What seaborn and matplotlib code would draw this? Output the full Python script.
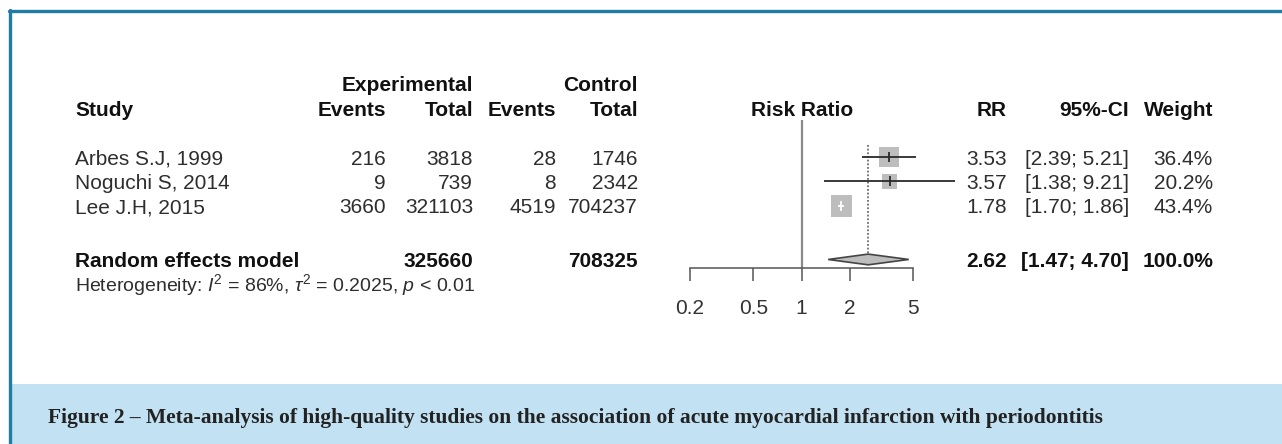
import matplotlib
matplotlib.use("Agg")
import matplotlib.pyplot as plt
import matplotlib.transforms as mtransforms
from matplotlib.patches import Rectangle
from matplotlib.lines import Line2D
import pandas as pd
import seaborn as sns

# study level data
studies = ["Arbes S.J, 1999", "Noguchi S, 2014", "Lee J.H, 2015"]
exp_events = [216, 9, 3660]
exp_total = [3818, 739, 321103]
ctrl_events = [28, 8, 4519]
ctrl_total = [1746, 2342, 704237]
rr = [3.53, 3.57, 1.78]
ci_lo = [2.39, 1.38, 1.70]
ci_hi = [5.21, 9.21, 1.86]
weight = [36.4, 20.2, 43.4]

# pooled (random effects) result
pooled_rr = 2.62
pooled_lo = 1.47
pooled_hi = 4.70
pooled_exp_total = 325660
pooled_ctrl_total = 708325
het_text = r"Heterogeneity: $I^2$ = 86%, $\tau^2$ = 0.2025, $p$ < 0.01"

x_ticks = [0.2, 0.5, 1, 2, 5]
caption = ("Figure 2 \u2013 Meta-analysis of high-quality studies on the association "
           "of acute myocardial infarction with periodontitis")

sns.set_theme(style="white")
plt.rcParams["font.family"] = ["Liberation Sans", "DejaVu Sans"]
plt.rcParams["mathtext.fontset"] = "custom"
plt.rcParams["mathtext.rm"] = "Liberation Sans"
plt.rcParams["mathtext.it"] = "Liberation Sans:italic"

W, H = 1282, 444
fig = plt.figure(figsize=(W / 100, H / 100), dpi=100)
fig.patch.set_facecolor("white")


def fx(px):
    return px / W


def fy(py):
    return 1 - py / H


# row layout (in rows, top to bottom)
rows = [0, 1, 2]
row_model = 4.2
row_het = 5.1
row_head = -2.0
row_group = -3.0

# forest panel: spans pixels x 690..913, y 120..268
ax = fig.add_axes([fx(690), fy(268), fx(913) - fx(690), (268 - 120) / H])
ax.set_xscale("log")
ax.set_xlim(0.2, 5)
ax.set_ylim(4.55, -1.52)
ax.set_facecolor("none")
for s in ["top", "left", "right"]:
    ax.spines[s].set_visible(False)
ax.spines["bottom"].set_bounds(0.2, 5)
ax.spines["bottom"].set_color("#555555")
ax.spines["bottom"].set_linewidth(1.1)
ax.set_xticks(x_ticks)
ax.set_xticklabels([f"{t:g}" for t in x_ticks])
ax.minorticks_off()
ax.tick_params(axis="x", direction="out", length=9, width=1.1, color="#555555",
               pad=13, labelsize=15, labelcolor="#333333", bottom=True)
ax.set_yticks([])

# line of no effect and pooled estimate
ax.axvline(1, color="#8a8a8a", lw=1.6, zorder=1)
ax.vlines(pooled_rr, -0.5, row_model - 0.22, colors="#555555", linestyles=(0, (1.2, 1.2)),
          lw=1.1, zorder=1)

df = pd.DataFrame({"rr": rr, "row": rows, "weight": weight})

# squares sized by weight
sns.scatterplot(data=df, x="rr", y="row", size="weight", sizes=(0, 560), size_norm=(0, 100),
                marker="s", color="#bdbdbd", edgecolor="none", legend=False, ax=ax,
                zorder=2, clip_on=False)

# confidence intervals on top of the squares (may run past the axis end);
# a CI that fits inside its square is drawn in white
for x, lo, hi, r in zip(rr, ci_lo, ci_hi, rows):
    c = "white" if hi / lo < 1.2 else "#2a2a2a"
    ax.hlines(r, lo, hi, colors=c, lw=1.3, zorder=4, clip_on=False)
    ax.plot([x], [r], marker="|", ms=7, mew=1.3, color=c, zorder=4)

# pooled diamond
h = 0.22
ax.fill([pooled_lo, pooled_rr, pooled_hi, pooled_rr],
        [row_model, row_model - h, row_model, row_model + h],
        facecolor="#bdbdbd", edgecolor="#444444", lw=1.2, zorder=3)
ax.set_xlabel("")
ax.set_ylabel("")

# text table: x in figure pixels, y in forest rows
tr = mtransforms.blended_transform_factory(fig.transFigure, ax.transData)
fs = 15
col_reg = "#2e2e2e"
col_bold = "#111111"


def put(px, row, s, ha="right", bold=False, size=fs):
    fig.text(fx(px), row, s, transform=tr, ha=ha, va="center_baseline", fontsize=size,
             fontweight="bold" if bold else "normal",
             color=col_bold if bold else col_reg)


# headers
put(473, row_group, "Experimental", bold=True)
put(638, row_group, "Control", bold=True)
put(75, row_head, "Study", ha="left", bold=True)
put(386, row_head, "Events", bold=True)
put(473, row_head, "Total", bold=True)
put(556, row_head, "Events", bold=True)
put(638, row_head, "Total", bold=True)
put(802, row_head, "Risk Ratio", ha="center", bold=True)
put(1007, row_head, "RR", bold=True)
put(1129, row_head, "95%-CI", bold=True)
put(1213, row_head, "Weight", bold=True)

# study rows
for i, r in enumerate(rows):
    put(75, r, studies[i], ha="left")
    put(386, r, f"{exp_events[i]}")
    put(473, r, f"{exp_total[i]}")
    put(556, r, f"{ctrl_events[i]}")
    put(638, r, f"{ctrl_total[i]}")
    put(1007, r, f"{rr[i]:.2f}")
    put(1129, r, f"[{ci_lo[i]:.2f}; {ci_hi[i]:.2f}]")
    put(1213, r, f"{weight[i]:.1f}%")

# pooled row
put(75, row_model, "Random effects model", ha="left", bold=True)
put(473, row_model, f"{pooled_exp_total}", bold=True)
put(638, row_model, f"{pooled_ctrl_total}", bold=True)
put(1007, row_model, f"{pooled_rr:.2f}", bold=True)
put(1129, row_model, f"[{pooled_lo:.2f}; {pooled_hi:.2f}]", bold=True)
put(1213, row_model, f"{sum(weight):.1f}%", bold=True)
put(75, row_het, het_text, ha="left", size=14)

# frame: teal top and left rules, light blue caption band
border = "#1f7ca2"
fig.add_artist(Rectangle((fx(11), 0), 1 - fx(11), fy(384), transform=fig.transFigure,
                         facecolor="#c2e2f3", edgecolor="none", zorder=0))
fig.add_artist(Line2D([fx(9), 1], [fy(11), fy(11)], transform=fig.transFigure,
                      color=border, lw=2.4))
fig.add_artist(Line2D([fx(10), fx(10)], [fy(10), 0], transform=fig.transFigure,
                      color=border, lw=2.4))
fig.text(fx(48), fy(415), caption, ha="left", va="center_baseline", fontsize=15.5,
         fontweight="bold", family=["Liberation Serif", "DejaVu Serif"], color="#222222")

fig.savefig("out.png", dpi=100, facecolor="white")
